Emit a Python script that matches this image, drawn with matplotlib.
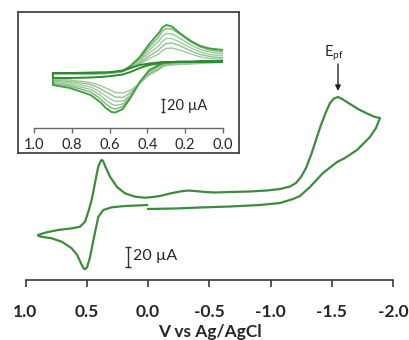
import matplotlib
matplotlib.use('Agg')
import matplotlib.pyplot as plt

plt.rcParams['font.family'] = ['Lato', 'DejaVu Sans']
plt.rcParams['mathtext.fontset'] = 'custom'
plt.rcParams['mathtext.rm'] = 'Lato'

# ---------------- main CV (V vs Ag/AgCl, current in uA) ----------------
fwd_v = [0.0, -0.22, -0.424, -0.669, -0.914, -1.078, -1.184, -1.241, -1.322,
         -1.429, -1.543, -1.608, -1.706, -1.812, -1.861, -1.894]
fwd_i = [1, 1.5, 2.5, 3.5, 5, 7, 11, 14, 23, 37, 48, 52, 60, 73, 82, 92]

rev_v = [-1.894, -1.853, -1.788, -1.714, -1.649, -1.592, -1.551, -1.518, -1.486,
         -1.453, -1.412, -1.371, -1.331, -1.290, -1.249, -1.208, -1.159, -1.078,
         -0.971, -0.833, -0.669, -0.547, -0.465, -0.384, -0.327, -0.261, -0.180,
         -0.098, -0.041, 0.024, 0.106, 0.188, 0.253, 0.310, 0.343, 0.367, 0.376,
         0.384, 0.406, 0.420, 0.433, 0.447, 0.460, 0.487, 0.514, 0.555, 0.620,
         0.735, 0.841, 0.898]
rev_i = [92, 93, 96.5, 101, 106, 110.5, 113, 111.5, 107, 98, 85, 70, 55, 42, 33,
         27, 23.5, 21, 19.5, 18.5, 18, 17.5, 18, 19, 19.5, 18.5, 16.5, 14, 13,
         12.3, 13.3, 16.7, 23, 33.3, 42, 49, 50, 49.5, 43.3, 35, 27, 18, 10, -1.7,
         -11.7, -16.7, -18.3, -20, -22.7, -25]

ret_v = [0.898, 0.882, 0.786, 0.704, 0.623, 0.578, 0.550, 0.530, 0.515, 0.498,
         0.475, 0.452, 0.430, 0.406, 0.365, 0.296, 0.188, 0.082, 0.008]
ret_i = [-25.5, -26.5, -28.3, -31.7, -38.3, -45, -52.5, -57.5, -59.3, -57.5,
         -48, -34, -21, -7, 0, 2.7, 4, 4.5, 5]

main_ticks = [1.0, 0.5, 0.0, -0.5, -1.0, -1.5, -2.0]
main_tick_labels = ['1.0', '0.5', '0.0', '-0.5', '-1.0', '-1.5', '-2.0']

# ---------------- inset CVs ----------------
inset_v = [0.90, 0.81, 0.70, 0.65, 0.62, 0.59, 0.57, 0.53, 0.49, 0.44, 0.39,
           0.34, 0.32, 0.30, 0.27, 0.23, 0.17, 0.12, 0.07, 0.0]

inset_top = [
    [-7.5, -7.5, -6.75, -6.75, -6.75, -6.75, -6, -4.5, 3, 16.5, 36, 52.5, 60.75, 64.5, 62.25, 52.5, 40.5, 33, 29.25, 27],
    [-8.25, -8.25, -7.5, -7.5, -7.5, -6.75, -6, -4.5, 2.25, 14.25, 31.5, 46.5, 55.5, 59.25, 58.5, 51, 39, 31.5, 27, 24],
    [-8.25, -8.25, -8.25, -8.25, -7.5, -7.5, -6.75, -5.25, 1.5, 12, 27, 40.5, 48, 51.75, 51, 45, 34.5, 27.75, 24, 21],
    [-9, -9, -9, -8.25, -8.25, -7.5, -6.75, -5.25, 0.75, 9.75, 22.5, 33, 40.5, 44.25, 44.25, 39, 30, 24, 20.25, 18],
    [-9, -9, -9, -9, -8.25, -7.5, -6.75, -5.25, 0, 7.5, 18, 27, 33, 36.75, 37.5, 33.75, 25.5, 20.25, 17.25, 15],
    [-9, -9, -9, -9, -8.25, -7.5, -6.75, -5.25, -0.75, 6, 14.25, 21, 26.25, 29.25, 30, 27, 21, 16.5, 14.25, 12.75],
    [-7.5, -7.5, -7.5, -6.75, -6.75, -6, -5.25, -3.75, 0, 4.5, 6.75, 8.25, 9, 9, 9, 9.75, 9.75, 9.75, 9.75, 9.75],
]
inset_bottom = [
    [-25.5, -30, -40.5, -51, -60, -66, -66.75, -61.5, -45, -21, -3, 4.5, 6.75, 7.5, 8.25, 9, 9, 9, 9.75, 9.75],
    [-23.25, -27, -36, -45.75, -54, -60, -61.5, -57.75, -43.5, -21, -4.5, 3, 6, 6.75, 7.5, 8.25, 9, 9, 9, 9.75],
    [-21, -24.75, -32.25, -40.5, -48, -54, -56.25, -54, -42, -21.75, -6, 1.5, 4.5, 6, 6.75, 7.5, 8.25, 9, 9, 9],
    [-19.5, -22.5, -28.5, -36, -42, -47.25, -50.25, -49.5, -40.5, -22.5, -7.5, 0, 3.75, 5.25, 6, 6.75, 7.5, 8.25, 9, 9],
    [-18, -20.25, -24.75, -30.75, -36, -40.5, -43.5, -44.25, -37.5, -22.5, -9, -1.5, 3, 4.5, 5.25, 6, 6.75, 7.5, 8.25, 9],
    [-16.5, -18, -21.75, -26.25, -30, -33.75, -36.75, -37.5, -33.75, -22.5, -10.5, -3, 1.5, 3.75, 4.5, 5.25, 6, 6.75, 7.5, 8.25],
    [-15, -15, -14.25, -13.5, -12.75, -12, -11.25, -9.75, -6, 0, 4.5, 6.75, 8.25, 9, 9, 9, 9, 9.75, 9.75, 9.75],
]
inset_colors = ['#43a043', '#78b878', '#98c698', '#a6c9a6', '#8dc28d', '#9fc79f', '#2f8a2f']
inset_widths = [1.4, 1.0, 1.0, 1.0, 1.0, 1.0, 1.4]

inset_ticks = [1.0, 0.8, 0.6, 0.4, 0.2, 0.0]
inset_tick_labels = ['1.0', '0.8', '0.6', '0.4', '0.2', '0.0']

# ---------------- figure ----------------
W, H = 409, 340
fig = plt.figure(figsize=(W / 100, H / 100), dpi=100)


def fx(p):
    return p / W


def fy(p):
    return 1 - p / H


axis_col = '#3a3a3a'
main_col = '#3d8c3d'

ax = fig.add_axes([fx(25.5), fy(280), fx(393) - fx(25.5), fy(0) - fy(280)])
ax.patch.set_alpha(0)
ax.set_xlim(1.0, -2.0)
ax.set_ylim(-70, 210)
for s in ['top', 'right', 'left']:
    ax.spines[s].set_visible(False)
ax.spines['bottom'].set_color(axis_col)
ax.spines['bottom'].set_linewidth(1.2)
ax.set_yticks([])
ax.set_xticks(main_ticks)
ax.set_xticklabels(main_tick_labels, fontweight='bold', fontsize=12.5)
ax.tick_params(axis='x', direction='out', length=5, width=1.2, color=axis_col,
               pad=12.5, labelcolor='#262626')

ax.plot(fwd_v + rev_v + ret_v, fwd_i + rev_i + ret_i, color=main_col, lw=1.6,
        solid_joinstyle='round', clip_on=False)

# scale bar main
ax.plot([0.166, 0.166], [-57, -37], color='#333333', lw=1.0, marker='_', ms=4,
        mew=1.0, clip_on=False)
ax.text(0.122, -46, '20 µA', fontsize=11.5, ha='left', va='center', color='#262626')

# E_pf annotation
ax.annotate('', xy=(-1.551, 119), xytext=(-1.551, 146),
            arrowprops=dict(arrowstyle='-|>', color='#222222', lw=1.0,
                            mutation_scale=8, shrinkA=0, shrinkB=0))
ax.text(-1.52, 147, r'E$_{\mathregular{pf}}$', fontsize=10.5, ha='center',
        va='bottom', color='#262626')

fig.text(fx(210), fy(336.5), 'V vs Ag/AgCl', fontsize=12.5, fontweight='bold',
         ha='center', va='baseline', color='#262626')

# inset frame
frame = fig.add_axes([fx(18), fy(153), fx(239) - fx(18), fy(12) - fy(153)])
frame.set_xticks([])
frame.set_yticks([])
for s in frame.spines.values():
    s.set_color('#444444')
    s.set_linewidth(1.3)

ins = fig.add_axes([fx(34), fy(128), fx(223) - fx(34), fy(12) - fy(128)])
ins.patch.set_alpha(0)
ins.set_xlim(1.0, 0.0)
ins.set_ylim(-90, 84)
for s in ['top', 'right', 'left']:
    ins.spines[s].set_visible(False)
ins.spines['bottom'].set_color('#666666')
ins.spines['bottom'].set_linewidth(1.0)
ins.set_yticks([])
ins.set_xticks(inset_ticks)
ins.set_xticklabels(inset_tick_labels, fontsize=10.5)
ins.tick_params(axis='x', direction='out', length=3.5, width=1.0, color='#666666',
                pad=4, labelcolor='#262626')

order = [1, 2, 3, 4, 5, 0, 6]
for k in order:
    top = inset_top[k]
    bot = inset_bottom[k]
    vv = inset_v[::-1] + inset_v
    ii = top[::-1] + bot
    ins.plot(vv, ii, color=inset_colors[k], lw=inset_widths[k], solid_joinstyle='round')

ins.plot([0.317, 0.317], [-66.5, -46.5], color='#333333', lw=1.0, marker='_', ms=3,
         mew=1.0)
ins.text(0.296, -56.5, '20 µA', fontsize=10.5, ha='left', va='center', color='#262626')

fig.savefig('out.png', dpi=100)
